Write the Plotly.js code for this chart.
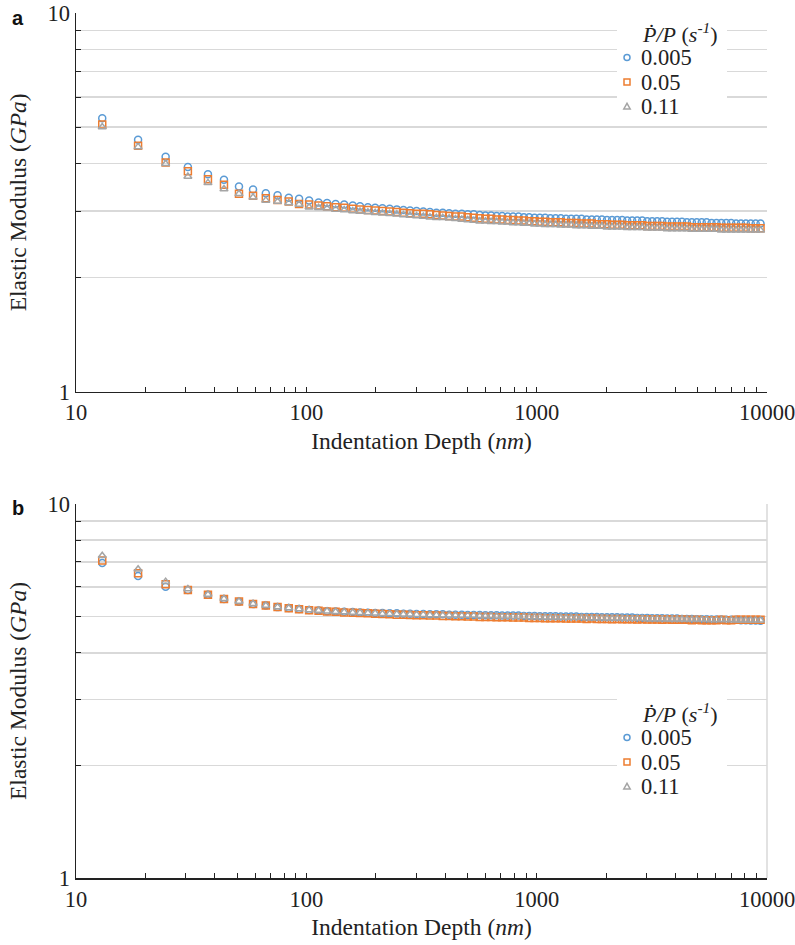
<!DOCTYPE html>
<html><head><meta charset="utf-8">
<script src="https://cdn.plot.ly/plotly-3.0.1.min.js"></script>
<style>body{margin:0;background:#fff}#chart{width:795px;height:945px}</style>
</head><body><div id="chart"></div>
<script>
// Indentation depth (nm)
const depth = [13.0, 18.6, 24.5, 30.6, 37.4, 43.9, 51.0, 58.7, 66.7, 75.0, 83.9, 93.0, 102.8, 113, 123, 134, 146, 159, 171, 185, 199, 214, 230, 247, 264, 282, 301, 322, 344, 367, 391, 417, 444, 473, 502, 533, 566, 599, 634, 670, 708, 748, 790, 834, 880, 928, 979, 1032, 1088, 1147, 1208, 1273, 1341, 1412, 1487, 1566, 1648, 1734, 1825, 1920, 2020, 2125, 2235, 2351, 2472, 2599, 2732, 2873, 3020, 3174, 3336, 3506, 3684, 3871, 4068, 4274, 4491, 4718, 4956, 5206, 5469, 5744, 6034, 6337, 6656, 6990, 7341, 7709, 8096, 8501, 8927, 9374];

const seriesNames = ['0.005', '0.05', '0.11'];

// Panel a: elastic modulus (GPa)
const a_005 = [5.27, 4.63, 4.17, 3.92, 3.75, 3.63, 3.48, 3.42, 3.34, 3.30, 3.25, 3.23, 3.20,
 3.16, 3.15, 3.13, 3.12, 3.10, 3.09, 3.07, 3.06, 3.05, 3.04, 3.03, 3.02, 3.01, 3.00, 2.99, 2.98, 2.97, 2.97, 2.96, 2.95, 2.95, 2.94, 2.94, 2.93,
 2.92, 2.92, 2.91, 2.91, 2.90, 2.90, 2.90, 2.89, 2.89, 2.88, 2.88, 2.88, 2.87, 2.87, 2.87, 2.86, 2.86, 2.86, 2.86, 2.85,
 2.85, 2.85, 2.85, 2.84, 2.84, 2.84, 2.84, 2.83, 2.83, 2.83, 2.83, 2.82, 2.82, 2.82, 2.82, 2.81, 2.81, 2.81, 2.81, 2.80,
 2.80, 2.80, 2.80, 2.80, 2.79, 2.79, 2.79, 2.79, 2.79, 2.78, 2.78, 2.78, 2.78, 2.78, 2.78];
const a_05 = [5.08, 4.46, 4.03, 3.82, 3.64, 3.52, 3.33, 3.29, 3.24, 3.21, 3.18, 3.13, 3.12,
 3.10, 3.09, 3.07, 3.06, 3.04, 3.03, 3.02, 3.01, 3.00, 2.99, 2.98, 2.97, 2.96, 2.95, 2.95, 2.94, 2.93, 2.92, 2.91, 2.90, 2.90, 2.89, 2.88, 2.87,
 2.86, 2.86, 2.85, 2.85, 2.84, 2.84, 2.83, 2.83, 2.82, 2.82, 2.81, 2.81, 2.80, 2.80, 2.80, 2.79, 2.79, 2.79, 2.78, 2.78,
 2.78, 2.77, 2.77, 2.77, 2.76, 2.76, 2.76, 2.75, 2.75, 2.75, 2.75, 2.74, 2.74, 2.74, 2.74, 2.73, 2.73, 2.73, 2.73, 2.73,
 2.72, 2.72, 2.72, 2.72, 2.72, 2.72, 2.71, 2.71, 2.71, 2.71, 2.71, 2.71, 2.70, 2.70, 2.70];
const a_11 = [5.00, 4.43, 4.00, 3.70, 3.56, 3.43, 3.33, 3.26, 3.20, 3.18, 3.15, 3.12, 3.07,
 3.06, 3.05, 3.03, 3.02, 3.00, 2.99, 2.98, 2.97, 2.96, 2.95, 2.94, 2.93, 2.92, 2.91, 2.90, 2.89, 2.88, 2.88, 2.87, 2.86, 2.85, 2.84, 2.83, 2.82,
 2.82, 2.81, 2.81, 2.80, 2.80, 2.79, 2.79, 2.78, 2.78, 2.77, 2.77, 2.76, 2.76, 2.76, 2.75, 2.75, 2.75, 2.74, 2.74, 2.74,
 2.73, 2.73, 2.73, 2.72, 2.72, 2.72, 2.72, 2.71, 2.71, 2.71, 2.71, 2.70, 2.70, 2.70, 2.70, 2.69, 2.69, 2.69, 2.69, 2.69,
 2.68, 2.68, 2.68, 2.68, 2.68, 2.68, 2.67, 2.67, 2.67, 2.67, 2.67, 2.67, 2.67, 2.67, 2.67];

// Panel b: elastic modulus (GPa)
const b_005 = [6.95, 6.42, 6.01, 5.89, 5.72, 5.57, 5.48, 5.40, 5.35, 5.30, 5.27, 5.24, 5.21,
 5.19, 5.17, 5.16, 5.15, 5.14, 5.13, 5.12, 5.11, 5.11, 5.10, 5.10, 5.09, 5.09, 5.08, 5.08, 5.07, 5.07, 5.07, 5.06, 5.06, 5.06, 5.05, 5.05, 5.05,
 5.04, 5.04, 5.04, 5.03, 5.03, 5.03, 5.03, 5.02, 5.02, 5.02, 5.01, 5.01, 5.01, 5.01, 5.00, 5.00, 5.00, 5.00, 4.99, 4.99,
 4.99, 4.99, 4.98, 4.98, 4.98, 4.98, 4.97, 4.97, 4.97, 4.96, 4.96, 4.96, 4.95, 4.95, 4.95, 4.94, 4.94, 4.94, 4.93, 4.93,
 4.93, 4.92, 4.92, 4.92, 4.91, 4.91, 4.91, 4.90, 4.90, 4.90, 4.89, 4.89, 4.88, 4.88, 4.87];
const b_05 = [7.06, 6.53, 6.10, 5.89, 5.72, 5.57, 5.49, 5.40, 5.35, 5.30, 5.26, 5.23, 5.20,
 5.18, 5.16, 5.15, 5.13, 5.12, 5.11, 5.10, 5.09, 5.08, 5.07, 5.06, 5.06, 5.05, 5.04, 5.04, 5.03, 5.03, 5.02, 5.02, 5.01, 5.01, 5.00, 5.00, 4.99,
 4.99, 4.99, 4.98, 4.98, 4.98, 4.97, 4.97, 4.97, 4.96, 4.96, 4.96, 4.95, 4.95, 4.95, 4.95, 4.94, 4.94, 4.94, 4.94, 4.93,
 4.94, 4.93, 4.93, 4.93, 4.92, 4.93, 4.92, 4.92, 4.92, 4.91, 4.92, 4.91, 4.91, 4.91, 4.90, 4.91, 4.90, 4.90, 4.90, 4.90,
 4.89, 4.90, 4.89, 4.89, 4.89, 4.89, 4.90, 4.89, 4.89, 4.90, 4.90, 4.90, 4.90, 4.90, 4.90];
const b_11 = [7.27, 6.69, 6.20, 5.93, 5.73, 5.58, 5.49, 5.41, 5.35, 5.30, 5.27, 5.24, 5.21,
 5.19, 5.17, 5.15, 5.14, 5.13, 5.12, 5.11, 5.10, 5.09, 5.09, 5.08, 5.07, 5.07, 5.06, 5.06, 5.05, 5.05, 5.04, 5.04, 5.04, 5.03, 5.03, 5.03, 5.02,
 5.02, 5.02, 5.01, 5.01, 5.01, 5.00, 5.00, 5.00, 4.99, 4.99, 4.99, 4.98, 4.98, 4.98, 4.98, 4.97, 4.97, 4.97, 4.97, 4.96,
 4.96, 4.96, 4.96, 4.95, 4.95, 4.95, 4.95, 4.94, 4.94, 4.94, 4.94, 4.93, 4.93, 4.93, 4.93, 4.92, 4.92, 4.92, 4.92, 4.91,
 4.91, 4.91, 4.91, 4.91, 4.90, 4.90, 4.90, 4.90, 4.90, 4.89, 4.89, 4.89, 4.89, 4.89, 4.89];

// Tick labels
const xTickVals = [10,20,30,40,50,60,70,80,90,100,200,300,400,500,600,700,800,900,1000,2000,3000,4000,5000,6000,7000,8000,9000,10000];
const xTickText = ['10',' ',' ',' ',' ',' ',' ',' ',' ','100',' ',' ',' ',' ',' ',' ',' ',' ','1000',' ',' ',' ',' ',' ',' ',' ',' ','10000'];
const yTickVals = [1,2,3,4,5,6,7,8,9,10];
const yTickText = ['1',' ',' ',' ',' ',' ',' ',' ',' ','10'];
const legendTitle = '<i>Ṗ/P</i> (<i>s<sup>-1</sup></i>)';

const colors = ['#5b9bd5', '#ed7d31', '#a5a5a5'];
const symbols = ['circle-open', 'square-open', 'triangle-up-open'];
const serif = 'Liberation Serif';

function mk(y, i, xa, ya) {
  return {x: depth, y: y, type: 'scatter', mode: 'markers', name: seriesNames[i],
    xaxis: xa, yaxis: ya, showlegend: false,
    marker: {symbol: symbols[i], size: 7, color: colors[i], line: {color: colors[i], width: 1.5}}};
}
const traces = [
  mk(a_005, 0, 'x', 'y'), mk(a_05, 1, 'x', 'y'), mk(a_11, 2, 'x', 'y'),
  mk(b_005, 0, 'x2', 'y2'), mk(b_05, 1, 'x2', 'y2'), mk(b_11, 2, 'x2', 'y2')
];

function xax(anchor) {
  return {type: 'log', range: [1, 4], anchor: anchor, domain: [0, 1], tickvals: xTickVals, ticktext: xTickText,
    ticks: 'inside', ticklen: 5, tickwidth: 1, tickcolor: '#222', showline: true, linecolor: '#222', linewidth: 1.5,
    showgrid: false, zeroline: false, tickangle: 0, ticklabeloverflow: 'allow',
    tickfont: {family: serif, size: 22.5, color: '#222'}, automargin: false,
    title: {text: 'Indentation Depth (<i>nm</i>)', font: {family: serif, size: 23.5, color: '#222'}, standoff: 8}};
}
function yax(anchor, dom) {
  return {type: 'log', range: [0, 1], anchor: anchor, domain: dom, tickvals: yTickVals, ticktext: yTickText,
    ticks: 'inside', ticklen: 5, tickwidth: 1, tickcolor: '#222', showline: true, linecolor: '#222', linewidth: 1.5,
    showgrid: true, gridcolor: '#d9d9d9', gridwidth: 1.5, zeroline: false, tickangle: 0, ticklabeloverflow: 'allow',
    tickfont: {family: serif, size: 22.5, color: '#222'}, automargin: false,
    title: {text: 'Elastic Modulus (<i>GPa</i>)', font: {family: serif, size: 23.5, color: '#222'}, standoff: 14}};
}

// legend drawn as annotations + marker shapes (paper coordinates derived from pixel layout)
const L = 76, PW = 691, B = 878, PH = 865;
const px = v => (v - L) / PW, py = v => (B - v) / PH;
const annotations = [
  {text: '<b>a</b>', xref: 'paper', yref: 'paper', x: px(18), y: py(18), xanchor: 'center', yanchor: 'middle', showarrow: false,
    font: {family: 'Liberation Sans', size: 20, color: '#111'}},
  {text: '<b>b</b>', xref: 'paper', yref: 'paper', x: px(18), y: py(508), xanchor: 'center', yanchor: 'middle', showarrow: false,
    font: {family: 'Liberation Sans', size: 20, color: '#111'}}
];
const shapes = [{type: 'line', xref: 'paper', yref: 'paper', x0: 1, x1: 1, y0: 0, y1: py(504),
  line: {color: '#d9d9d9', width: 1.5}}];
function legend(topPx) {
  shapes.push({type: 'rect', xref: 'paper', yref: 'paper', x0: px(617), x1: px(727), y0: py(topPx - 15), y1: py(topPx + 86),
    fillcolor: '#fff', line: {width: 0}, layer: 'above'});
  annotations.push({text: legendTitle, xref: 'paper', yref: 'paper', x: px(640), y: py(topPx), xanchor: 'left', yanchor: 'middle',
    showarrow: false, font: {family: serif, size: 22, color: '#222'}});
  seriesNames.forEach((n, i) => {
    const yc = topPx + 24.5 * (i + 1);
    annotations.push({text: n, xref: 'paper', yref: 'paper', x: px(639), y: py(yc), xanchor: 'left', yanchor: 'middle',
      showarrow: false, font: {family: serif, size: 22.5, color: '#222'}});
    const base = {xref: 'paper', yref: 'paper', xsizemode: 'pixel', ysizemode: 'pixel', xanchor: px(627), yanchor: py(yc),
      layer: 'above', line: {color: colors[i], width: 1.5}, fillcolor: 'rgba(0,0,0,0)'};
    if (i === 0) shapes.push(Object.assign({type: 'circle', x0: -3, x1: 3, y0: -3, y1: 3}, base));
    if (i === 1) shapes.push(Object.assign({type: 'rect', x0: -3, x1: 3, y0: -3, y1: 3}, base));
    if (i === 2) shapes.push(Object.assign({type: 'path', path: 'M -3.2,-2.5 L 3.2,-2.5 L 0,3.2 Z'}, base));
  });
}
legend(33);
legend(713);

const layout = {
  width: 795, height: 945, paper_bgcolor: '#fff', plot_bgcolor: '#fff',
  font: {family: serif, color: '#222', size: 22.5},
  margin: {l: L, r: 795 - L - PW, t: 13, b: 945 - B},
  xaxis: xax('y'), yaxis: yax('x', [py(391.7), 1]),
  xaxis2: xax('y2'), yaxis2: yax('x2', [0, py(504)]),
  showlegend: false, shapes: shapes, annotations: annotations
};
Plotly.newPlot('chart', traces, layout, {displayModeBar: false, staticPlot: true});
</script></body></html>
